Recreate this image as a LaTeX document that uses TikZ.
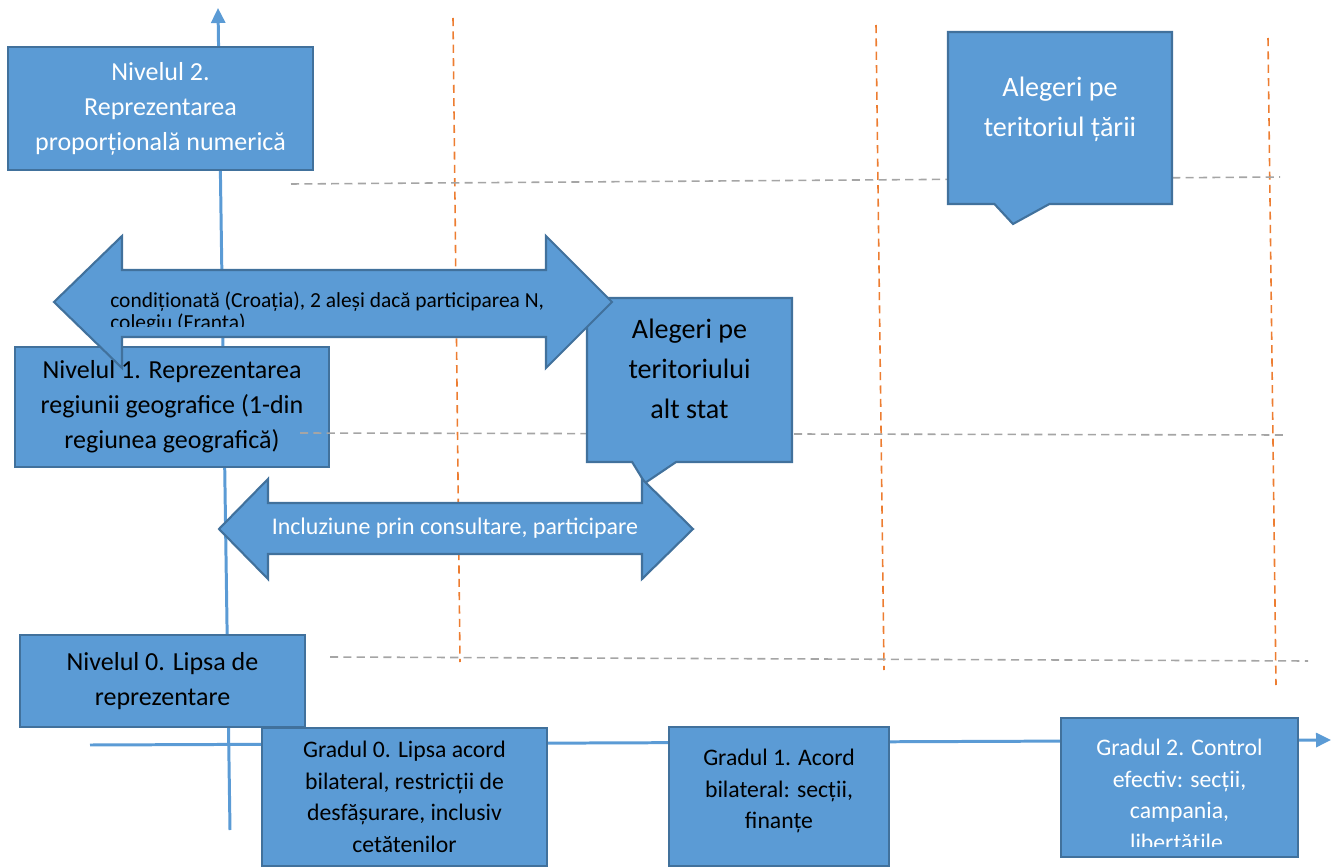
\documentclass[tikz,border=0pt]{standalone}
\usepackage{fontspec}
\setmainfont{Carlito}
\usepackage{tikz}
\usepackage{xcolor}
\usetikzlibrary{arrows.meta,shapes.callouts}

\definecolor{officeblue}{HTML}{5B9BD5}
\definecolor{officeedge}{HTML}{41719C}
\definecolor{guidegray}{HTML}{A5A5A5}
\definecolor{guideorange}{HTML}{ED7D31}

\begin{document}
\begin{tikzpicture}[
  x=0.02cm, y=-0.02cm,
  box/.style={draw=officeedge, fill=officeblue, line width=1.2pt, align=center, inner sep=0pt},
  lvltext/.style={font=\fontsize{14.8}{20}\selectfont},
  gradtext/.style={font=\fontsize{13.5}{18}\selectfont},
  callbox/.style={box, rectangle callout, font=\fontsize{16}{22.5}\selectfont, text depth=0.45cm},
  bigarrow/.style={draw=officeedge, fill=officeblue, line width=1.2pt, line join=miter},
  axis/.style={-{Triangle[length=0.3cm, width=0.28cm]}, line width=1.7pt, draw=officeblue},
  guide/.style={line width=0.9pt, dash pattern=on 4.6pt off 3pt}
]
\useasboundingbox (0,0) rectangle (1332,868);

\coordinate (vbot) at (230,830);
\coordinate (vtop) at (218,8);
\coordinate (hleft) at (90,745);
\coordinate (hright) at (1331,740);
\draw[axis] (vbot) -- (vtop);
\draw[axis] (hleft) -- (hright);

\draw[guide, guideorange] (453,18) -- (460,662);
\draw[guide, guideorange] (876,25) -- (884,670);
\draw[guide, guideorange] (1268,38) -- (1276,685);
\draw[guide, guidegray] (291,184) -- (1280,177);
\draw[guide, guidegray] (330,657) -- (1308,661);

\node[box, lvltext, text=white, minimum width=6.1cm, minimum height=2.46cm] (niv2) at (160.5,108.5)
  {Nivelul 2.\\Reprezentarea\\proporțională numerică};
\node[box, lvltext, minimum width=6.28cm, minimum height=2.4cm] (niv1) at (172,407)
  {Nivelul 1. Reprezentarea\\regiunii geografice (1-din\\regiunea geografică)};
\node[box, lvltext, minimum width=5.7cm, minimum height=1.84cm] (niv0) at (162.5,681)
  {Nivelul 0. Lipsa de\\reprezentare};

\draw[guide, guidegray] (300,433) -- (1285,435);

\node[callbox, text=white, minimum width=4.48cm, minimum height=3.44cm,
  callout absolute pointer={(1013,224)}, callout pointer width=1.1cm] (taraCall) at (1060,118)
  {Alegeri pe\\teritoriul țării};
\node[callbox, minimum width=4.1cm, minimum height=3.28cm,
  callout absolute pointer={(645,483)}, callout pointer width=0.88cm] (statCall) at (689.5,380)
  {Alegeri pe\\teritoriului\\alt stat};

\draw[bigarrow] (54,302) -- (122,236) -- (122,270) -- (546,270) -- (546,236) -- (612,302)
  -- (546,368) -- (546,337) -- (122,337) -- (122,368) -- cycle;
\begin{scope}
  \clip (100,280) rectangle (560,326);
  \node[anchor=north west, inner sep=0pt, align=left, font=\fontsize{12.2}{13}\selectfont] (condText) at (110,291)
    {condiționată (Croația), 2 aleși dacă participarea N,\\colegiu (Franța)};
\end{scope}

\draw[bigarrow] (219,529) -- (268,479) -- (268,503) -- (642,503) -- (642,479) -- (693,529)
  -- (642,579) -- (642,554) -- (268,554) -- (268,579) -- cycle;
\node[text=white, inner sep=0pt, font=\fontsize{13.6}{16}\selectfont] (inclText) at (455,528)
  {Incluziune prin consultare, participare};

\node[box, gradtext, minimum width=5.7cm, minimum height=2.76cm] (grad0) at (404.5,797)
  {Gradul 0. Lipsa acord\\bilateral, restricții de\\desfășurare, inclusiv\\cetătenilor};
\node[box, gradtext, minimum width=4.4cm, minimum height=2.78cm, text depth=0.3cm] (grad1) at (779,796.5)
  {Gradul 1. Acord\\bilateral: secții,\\finanțe};
\node[box, minimum width=4.74cm, minimum height=2.78cm] (grad2) at (1179.5,787.5) {};
\begin{scope}
  \clip (1064,721) rectangle (1295,846);
  \node[gradtext, text=white, align=center, inner sep=0pt] (grad2Text) at (1179.5,797)
    {Gradul 2. Control\\efectiv: secții,\\campania,\\libertățile.};
\end{scope}
\end{tikzpicture}
\end{document}
